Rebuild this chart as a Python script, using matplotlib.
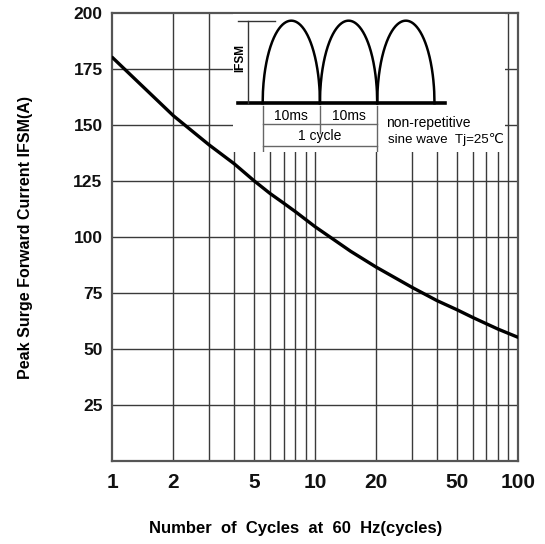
# Peak surge forward current vs number of cycles (datasheet-style curve)
import matplotlib
matplotlib.use("Agg")
import matplotlib.pyplot as plt
import numpy as np
from matplotlib.ticker import FixedLocator, NullFormatter

plt.rcParams["font.family"] = ["Liberation Sans", "DejaVu Sans"]

# Curve
cycles = [1, 2, 3, 4, 5, 6, 7, 8, 10, 15, 20, 30, 40, 50, 60, 70, 80, 100]
ifsm = [180, 154, 141, 132.5, 125, 119.3, 115, 111.2, 104.5, 93.5, 86.5,
        77.5, 71.5, 67.5, 64, 61.2, 58.8, 55.2]

x_ticks = [1, 2, 5, 10, 20, 50, 100]
x_labels = ["1", "2", "5", "10", "20", "50", "100"]
x_grid = [2, 3, 4, 5, 6, 7, 8, 9, 10, 20, 30, 40, 50, 60, 70, 80, 90]
y_ticks = [25, 50, 75, 100, 125, 150, 175, 200]

# Inset waveform: half-sine pulses, 10 ms each
pulse_starts = [0, 10, 20]
pulse_width = 10

GRID = "#3a3a3a"

fig = plt.figure(figsize=(5.45, 5.44), dpi=100)
ax = fig.add_axes([0.206, 0.1526, 0.744, 0.8244])

ax.set_xscale("log")
ax.set_xlim(1, 100)
ax.set_ylim(0, 200)

ax.plot(cycles, ifsm, color="black", linewidth=2.4, solid_capstyle="round",
        solid_joinstyle="round", zorder=3)

# grid lines
for g in x_grid:
    ax.axvline(g, color=GRID, linewidth=1.0, zorder=1)
for g in y_ticks[:-1]:
    ax.axhline(g, color=GRID, linewidth=1.0, zorder=1)

ax.xaxis.set_major_locator(FixedLocator(x_ticks))
ax.set_xticklabels(x_labels)
ax.xaxis.set_minor_formatter(NullFormatter())
ax.set_yticks(y_ticks)
ax.tick_params(axis="x", which="both", length=0, pad=9, labelsize=15)
ax.tick_params(axis="y", length=0, pad=7, labelsize=12.5)
for lab in ax.get_xticklabels() + ax.get_yticklabels():
    lab.set_fontweight("bold")
    lab.set_color("#111111")

for sp in ax.spines.values():
    sp.set_color("#555555")
    sp.set_linewidth(1.6)

fig.text(0.046, 0.563, "Peak Surge Forward Current IFSM(A)", rotation=90,
         ha="center", va="center", fontsize=11.5, fontweight="bold")
fig.text(0.543, 0.028, "Number  of  Cycles  at  60  Hz(cycles)",
         ha="center", va="center", fontsize=12, fontweight="bold")

# Inset schematic (time in ms, current normalised to peak)
ins = fig.add_axes([0.4275, 0.7206, 0.499, 0.2537])
ins.set_xlim(-5.18, 42.3)
ins.set_ylim(-0.59, 1.081)
ins.set_facecolor("white")
for sp in ins.spines.values():
    sp.set_visible(False)
ins.set_xticks([])
ins.set_yticks([])

for s in pulse_starts:
    t = np.linspace(s, s + pulse_width, 200)
    u = (t - s) / pulse_width * 2 - 1
    ins.plot(t, np.sqrt(np.clip(1 - u ** 2, 0, 1)), color="black", linewidth=1.8)
ins.plot([-4.31, 31.8], [0, 0], color="black", linewidth=2.6)

# IFSM marker
ins.plot([-2.51, -2.51], [0, 1.0], color="#333333", linewidth=1.0)
ins.plot([-4.31, 2.15], [1.0, 1.0], color="#333333", linewidth=1.0)
ins.text(-3.96, 0.55, "IFSM", rotation=90, ha="center", va="center",
         fontsize=8.5, fontweight="bold")

# dimension lines
dim = "#666666"
for xv, y0 in [(0, -0.586), (10, -0.36), (20, -0.586)]:
    ins.plot([xv, xv], [-0.03, y0], color=dim, linewidth=1.0)
ins.plot([0, 20], [-0.25, -0.25], color=dim, linewidth=1.0)
ins.plot([0, 20], [-0.513, -0.513], color=dim, linewidth=1.0)
ins.text(5, -0.15, "10ms", ha="center", va="center", fontsize=10)
ins.text(15, -0.15, "10ms", ha="center", va="center", fontsize=10)
ins.text(10, -0.395, "1 cycle", ha="center", va="center", fontsize=10)
ins.text(21.6, -0.24, "non-repetitive", ha="left", va="center", fontsize=10)
ins.text(21.9, -0.44, "sine wave  Tj=25\u2103", ha="left", va="center", fontsize=9.6)

fig.savefig("out.png", dpi=100)
